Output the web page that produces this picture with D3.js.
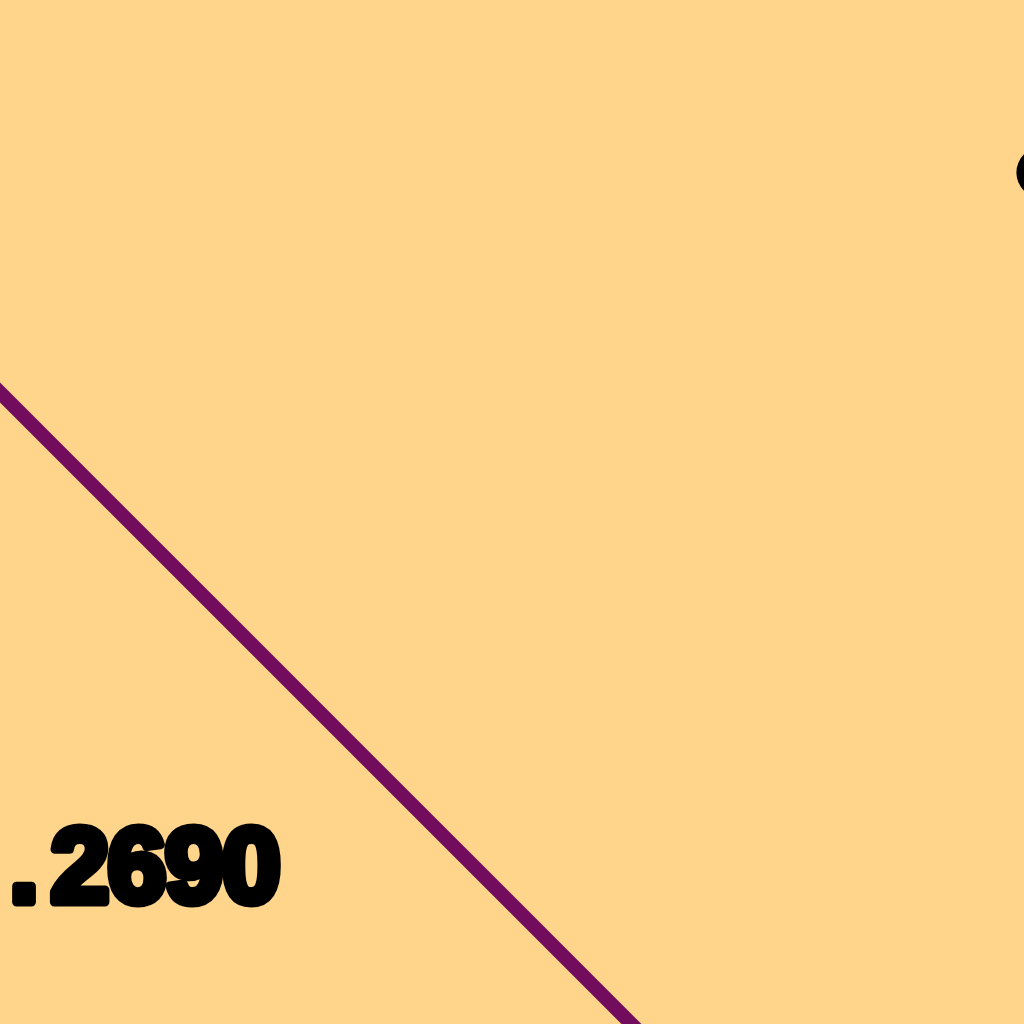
<!DOCTYPE html>
<html>
<head>
<meta charset="utf-8">
<script src="https://cdn.jsdelivr.net/npm/d3@7"></script>
<style>
  html, body { margin: 0; padding: 0; background: #FED58A; overflow: hidden; }
</style>
</head>
<body>
<div id="chart"></div>
<script>
// series data
const xValues = [0, 1, 2, 3, 4];
const seriesValues = [0.3012, 0.3367, 0.2367, 0.2905, 0.3150];

// value labels and markers (data units)
const labelX = [1.407];
const labelY = [0.2790];
const labelText = ["0.2690"];
const markerX = [1.972];
const markerY = [0.3330];

// full chart size, and the zoomed window that is shown
const width = 1024, height = 1024;
const zoom = 6;
const view = [330, 162, 1024 / zoom, 1024 / zoom];

const x = d3.scaleLinear().domain([0, 4]).range([60, 960]);
const y = d3.scaleLinear().domain([0, 0.4]).range([940, 40]);

const svg = d3.select("#chart")
  .append("svg")
  .attr("width", 1024)
  .attr("height", 1024)
  .attr("viewBox", view)
  .style("display", "block");

svg.append("rect")
  .attr("width", width)
  .attr("height", height)
  .attr("fill", "#FED58A");

const line = d3.line()
  .x((d, i) => x(xValues[i]))
  .y(d => y(d));

svg.append("path")
  .datum(seriesValues)
  .attr("fill", "none")
  .attr("stroke", "#720C5D")
  .attr("stroke-width", 2.35)
  .attr("d", line);

svg.append("g")
  .selectAll("circle")
  .data(markerX)
  .join("circle")
  .attr("cx", d => x(d))
  .attr("cy", (d, i) => y(markerY[i]))
  .attr("r", 4.3)
  .attr("fill", "#000");

// per-glyph nudge: a little air around the decimal point
svg.append("g")
  .selectAll("text")
  .data(labelText)
  .join("text")
  .attr("x", (d, i) => x(labelX[i]))
  .attr("y", (d, i) => y(labelY[i]))
  .attr("dx", "0 2 2.2 0 0 0")
  .attr("text-anchor", "end")
  .attr("font-family", "Liberation Sans, Arial, sans-serif")
  .attr("font-weight", "bold")
  .attr("font-size", 17.5)
  .attr("letter-spacing", -0.2)
  .attr("fill", "#000")
  .attr("stroke", "#000")
  .attr("stroke-width", 1.5)
  .attr("stroke-linejoin", "round")
  .text(d => d);
</script>
</body>
</html>
